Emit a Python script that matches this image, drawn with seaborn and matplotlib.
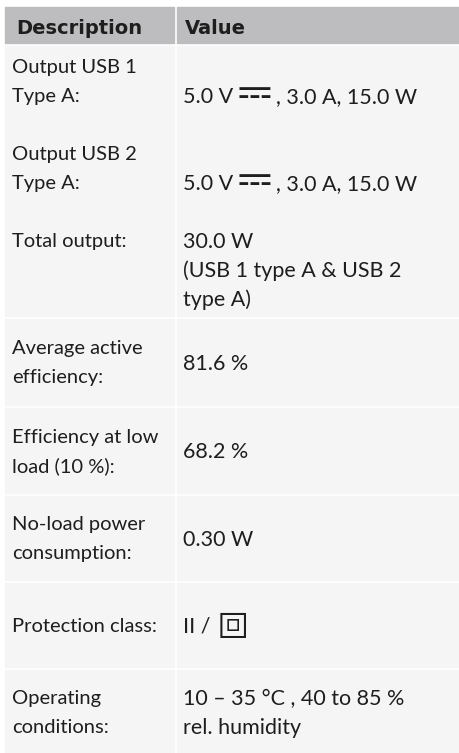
import matplotlib
matplotlib.use("Agg")
import matplotlib.pyplot as plt
import matplotlib.patches as mpatches
import seaborn as sns

# table content
header = ["Description", "Value"]

# each row: description lines, value lines
row_labels = [
    ["Output USB 1", "Type A:"],
    ["Output USB 2", "Type A:"],
    ["Total output:"],
    ["Average active", "efficiency:"],
    ["Efficiency at low", "load (10 %):"],
    ["No-load power", "consumption:"],
    ["Protection class:"],
    ["Operating", "conditions:"],
]
row_values = [
    ["5.0 V\u2393, 3.0 A, 15.0 W"],
    ["5.0 V\u2393, 3.0 A, 15.0 W"],
    ["30.0 W", "(USB 1 type A & USB 2", "type A)"],
    ["81.6 %"],
    ["68.2 %"],
    ["0.30 W"],
    ["II / \u29c8"],
    ["10 \u2013 35 \u00b0C , 40 to 85 %", "rel. humidity"],
]

# layout (px): visual centre of the first line of each label / value
label_y = [66, 153, 240, 347, 436, 523, 625, 697]
value_y = [95, 182, 240, 362, 450, 538, 625, 697]
line_gap = 29

# cell bands in px (top, bottom); the three output entries share one band
bands = [(46, 316), (319, 405), (408, 493), (496, 580), (583, 667), (670, 753)]

# symbols drawn larger than the running text
symbol_scale = {"\u2393": 1.9, "\u29c8": 1.45}

sns.set_theme(style="white")
plt.rcParams['font.family'] = ['Lato', 'DejaVu Sans', 'STIXGeneral']

W, H = 460, 753
fig = plt.figure(figsize=(W / 100, H / 100), dpi=100)
ax = fig.add_axes([0, 0, 1, 1])
ax.set_xlim(0, W)
ax.set_ylim(H, 0)
ax.axis('off')

head_col = '#bdbdbf'
body_col = '#f5f5f5'
text_col = '#1e1e1e'
x_left, x_split1, x_split2 = 5, 174, 177
label_fs, value_fs = 14.5, 15.5


def split_symbols(s):
    parts, buf = [], ""
    for ch in s:
        if ch in symbol_scale:
            if buf:
                parts.append(buf)
            parts.append(ch)
            buf = ""
        else:
            buf += ch
    if buf:
        parts.append(buf)
    return parts


def draw_value(x, y, s, fs):
    prev = None
    for part in split_symbols(s):
        size = fs * symbol_scale.get(part, 1)
        if prev is None:
            prev = ax.text(x, y, part, fontsize=size, color=text_col, va='baseline')
        else:
            pad = 2 if (part in symbol_scale or prev.get_text() in symbol_scale) else 0
            prev = ax.annotate(part, xy=(1, y), xycoords=(prev, 'data'),
                               xytext=(pad, 0), textcoords='offset points',
                               fontsize=size, color=text_col, va='baseline', ha='left')


# header
ax.add_patch(mpatches.Rectangle((x_left, 7), x_split1 - x_left, 36, color=head_col))
ax.add_patch(mpatches.Rectangle((x_split2, 7), W - x_split2, 36, color=head_col))
ax.text(16, 34, header[0], fontsize=14, fontweight='bold', family='DejaVu Sans',
        color=text_col, va='baseline')
ax.text(185, 34, header[1], fontsize=14, fontweight='bold', family='DejaVu Sans',
        color=text_col, va='baseline')

# body cells
for top, bottom in bands:
    ax.add_patch(mpatches.Rectangle((x_left, top), x_split1 - x_left, bottom - top, color=body_col))
    ax.add_patch(mpatches.Rectangle((x_split2, top), W - x_split2, bottom - top, color=body_col))

for labels, values, ly, vy in zip(row_labels, row_values, label_y, value_y):
    for i, t in enumerate(labels):
        ax.text(12, ly + i * line_gap + label_fs / 2, t, fontsize=label_fs,
                color=text_col, va='baseline')
    for i, t in enumerate(values):
        draw_value(183, vy + i * line_gap + value_fs / 2, t, value_fs)

fig.savefig('out.png', dpi=100, facecolor='white')
